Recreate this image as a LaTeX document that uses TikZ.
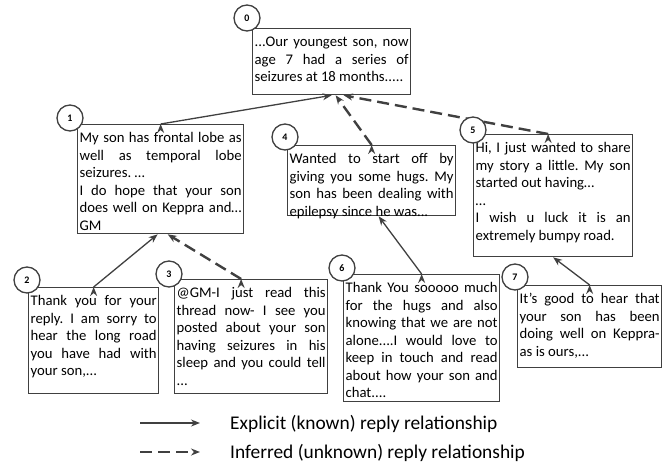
\documentclass[tikz,border=0pt]{standalone}
\usepackage{fontspec}
\setmainfont{Carlito}
\usepackage{tikz}
\usetikzlibrary{arrows.meta}
\definecolor{linegray}{RGB}{64,64,64}
\tolerance=9999\relax
\hyphenpenalty=10000\relax
\frenchspacing
\tikzset{
 post/.style 2 args={draw=linegray,line width=1.3pt,anchor=north west,inner xsep=2pt,inner ysep=3pt,
   text width=#1,text height=15pt,text depth=#2,align=justify,
   font=\fontsize{14.7}{17.5}\selectfont},
 num/.style={circle,draw=linegray,line width=1.3pt,fill=white,minimum size=26pt,inner sep=0pt,
   font=\fontsize{10}{12}\selectfont\bfseries},
 reply/.style={-{Stealth[length=9pt,width=7pt]},draw=linegray,line width=1.3pt},
 guess/.style={reply,line width=2.4pt,dash pattern=on 12pt off 6pt},
 legend/.style={anchor=base west,inner sep=0pt,font=\fontsize{19.4}{23}\selectfont}
}
\begin{document}
\begin{tikzpicture}[x=1pt,y=-1pt]
\useasboundingbox (0,0) rectangle (667,463);
 \draw (252,28) node[post={154}{45}] (m0) {...Our youngest son, now\linebreak age 7 had a series of\linebreak seizures at 18 months.....};
  \draw (77,124) node[post={162}{88}] (m1) {My son has frontal lobe as\linebreak well as temporal lobe\linebreak seizures. …\par I do hope that your son\linebreak does well on Keppra and…\linebreak GM};
  \draw (287,145) node[post={164}{49}] (m4) {Wanted to start off by\linebreak giving you some hugs. My\linebreak son has been dealing with\linebreak epilepsy since he was...};
  \draw (473,134) node[post={155}{101}] (m5) {Hi, I just wanted to share\linebreak my story a little. My son\linebreak started out having…\par …\par I wish u luck it is an\linebreak extremely bumpy road.};
    \draw (28,287) node[post={126}{85}] (m2) {Thank you for your\linebreak reply. I am sorry to\linebreak hear the long road\linebreak you have had with\linebreak your son,...};
    \draw (174,279) node[post={149}{93}] (m3) {@GM-I just read this\linebreak thread now- I see you\linebreak posted about your son\linebreak having seizures in his\linebreak sleep and you could tell\linebreak ...};
    \draw (343,274) node[post={152}{106}] (m6) {Thank You sooooo much\linebreak for the hugs and also\linebreak knowing that we are not\linebreak alone....I would love to\linebreak keep in touch and read\linebreak about how your son and\linebreak chat....};
    \draw (517,285) node[post={140}{61}] (m7) {It's good to hear that\linebreak your son has been\linebreak doing well on Keppra-\linebreak as is ours,...};

     \path[reply] (m1.north) edge (m0.south);
     \path[guess] (m4.north) edge ([xshift=4pt]m0.south);
     \path[guess] ([xshift=-5pt]m5.north) edge ([xshift=12pt]m0.south);
     \path[reply] (m2.north) edge ([xshift=-3pt]m1.south);
     \path[guess] ([xshift=-10pt]m3.north) edge ([xshift=7pt]m1.south);
     \path[reply] (m6.north) edge ([xshift=7pt]m4.south);
     \path[reply] (m7.north) edge (m5.south);

  \draw (247,18) node[num] (n0) {0};
  \draw (70,118) node[num] (n1) {1};
  \draw (285,137) node[num] (n4) {4};
  \draw (473,130) node[num] (n5) {5};
  \draw (27,280) node[num] (n2) {2};
  \draw (169,274) node[num] (n3) {3};
  \draw (342,268) node[num] (n6) {6};
  \draw (515,277) node[num] (n7) {7};

  \coordinate (s1) at (140,423);
  \coordinate (e1) at (200,423);
  \coordinate (s2) at (140,452);
  \coordinate (e2) at (200,452);
     \draw[reply] (s1) -- (e1);
     \draw[guess] (s2) -- (e2);
  \draw (230,429) node[legend] (t1) {Explicit (known) reply relationship};
  \draw (230,458) node[legend] (t2) {Inferred (unknown) reply relationship};
\end{tikzpicture}
\end{document}
